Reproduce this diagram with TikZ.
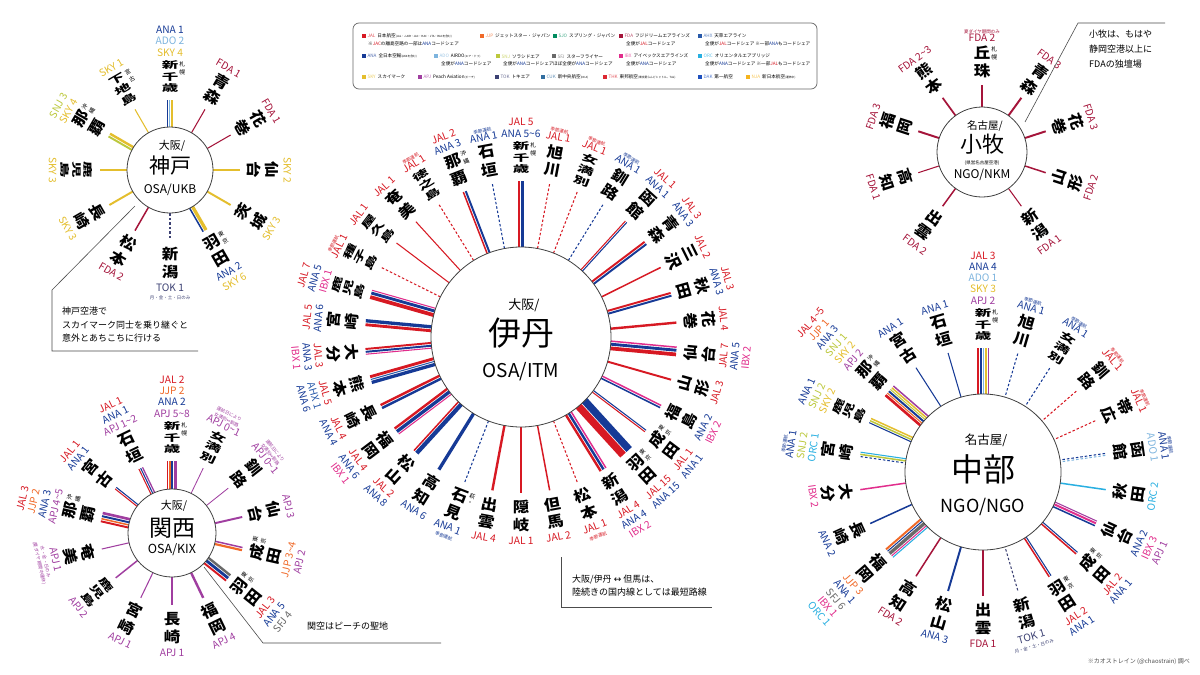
\documentclass[tikz,border=0pt]{standalone}
\usepackage{fontspec}
\setmainfont{Noto Sans CJK JP}
\newfontfamily\djv{DejaVu Sans}
\usepackage{graphicx}
\usetikzlibrary{calc}
\definecolor{jal}{RGB}{215,25,35}
\definecolor{ana}{RGB}{22,58,150}
\definecolor{ado}{RGB}{125,180,222}
\definecolor{sky}{RGB}{228,190,45}
\definecolor{snj}{RGB}{188,200,60}
\definecolor{fda}{RGB}{165,20,58}
\definecolor{jjp}{RGB}{240,105,40}
\definecolor{apj}{RGB}{160,62,160}
\definecolor{ibx}{RGB}{225,45,140}
\definecolor{orc}{RGB}{40,175,225}
\definecolor{tok}{RGB}{60,65,115}
\definecolor{sfj}{RGB}{105,105,105}
\definecolor{ahx}{RGB}{40,90,170}
\definecolor{sjo}{RGB}{0,140,95}
\definecolor{cuk}{RGB}{50,110,160}
\definecolor{thk}{RGB}{220,40,50}
\definecolor{dak}{RGB}{30,80,190}
\definecolor{nja}{RGB}{245,180,30}
\tikzset{
  hubc/.style={draw=black!75, line width=0.8pt, fill=white},
  sea/.style={dash pattern=on 2.5pt off 2pt},
  nmst/.style={inner sep=0pt, font=\bfseries},
  lbl/.style={inner xsep=0pt, inner ysep=4pt, align=center, font=\fontsize{10.2}{11.3}\selectfont},
  ann/.style={inner sep=0.8pt, font=\fontsize{5.8}{6.2}\selectfont},
  callt/.style={draw=black!70, line width=0.6pt},
  ctext/.style={align=left, anchor=north west, inner sep=0pt},
  leg/.style={anchor=west, inner sep=0pt, font=\fontsize{4.6}{5}\selectfont},
}
\newcommand\lbcol[2]{{\color{#1}#2}}
\newcommand\lbnote[2]{{\color{#1}\fontsize{4.5}{5}\selectfont #2}}
\newcommand\tld{\textasciitilde}
\def\lgap{0.9}
\def\hg{7}
\newcommand\sethub[6]{\coordinate (#1) at (#2,-#3);\def\hc{#1}\def\hr{#4}\def\hR{#5}\def\hstep{#6}}
\newcommand\rspoke[5]{%
  \pgfmathsetmacro\spTh{#1*\hstep}%
  \pgfmathsetmacro\spPh{90-\spTh}%
  \pgfmathtruncatemacro\spBot{(\spTh>90.01 && \spTh<270.01) ? 1 : 0}%
  \ifnum\spBot=1
    \def\spSg{-1}\pgfmathsetmacro\spRt{180-\spTh}\def\spAnc{north}\def\spFar{south}%
  \else
    \def\spSg{1}\pgfmathsetmacro\spRt{-\spTh}\def\spAnc{south}\def\spFar{north}%
  \fi
  \xdef\totw{0}%
  \foreach \LC/\LN/\LD in {#2}{\pgfmathparse{\totw+0.45*\LN+0.6+\lgap}\xdef\totw{\pgfmathresult}}%
  \pgfmathparse{-(\totw-\lgap)/2}\xdef\xcur{\pgfmathresult}%
  \begin{scope}[shift={(\hc)}, rotate=-\spTh]
    \foreach \LC/\LN/\LD in {#2}{%
      \pgfmathsetmacro\lw{0.45*\LN+0.6}%
      \pgfmathsetmacro\xm{\spSg*(\xcur+\lw/2)}%
      \draw[\LC, line width=\lw pt, \LD] (\xm,\hr*0.8) -- (\xm,\hR);
      \pgfmathparse{\xcur+\lw+\lgap}\xdef\xcur{\pgfmathresult}%
    }
  \end{scope}
  \node[nmst, rotate=\spRt, anchor=\spAnc] (nm) at ($(\hc)+(\spPh:{\hR+\hg})$) {\resizebox*{16.5pt}{32pt}{\shortstack{#3}}};
  \if\relax\detokenize{#4}\relax\else
    \node[ann, rotate=\spRt, anchor=north west] at (nm.north east) {\shortstack{#4}};
  \fi
  \node[lbl, rotate=\spRt, anchor=\spAnc] at (nm.\spFar) {#5};
}
\newcommand\legi[5]{\node[leg] at (#1,-#2) {\textcolor{#3}{\rule{4.2pt}{4.2pt}}\hspace{1.2pt}\textcolor{#3!75}{#4}\hspace{2pt}#5};}
\newcommand\legs[3]{\node[leg] at (#1,-#2) {#3};}
\newcommand\tn[1]{{\fontsize{2.8}{3}\selectfont #1}}
\begin{document}
\begin{tikzpicture}[x=1pt,y=1pt]
\useasboundingbox (0,0) rectangle (1200,-675);
\fill[white] (0,0) rectangle (1200,-675);

% ================= KOBE =================
\sethub{kobe}{170}{170}{43}{70}{30}
\rspoke{0}{ana/1/solid, ado/2/solid, sky/4/solid}{新\\千\\歳}{札\\幌}{\lbcol{ana}{ANA 1}\\\lbcol{ado}{ADO 2}\\\lbcol{sky}{SKY 4}}
\rspoke{1}{fda/1/solid}{青\\森}{}{\lbcol{fda}{FDA 1}}
\rspoke{2}{fda/1/solid}{花\\巻}{}{\lbcol{fda}{FDA 1}}
\rspoke{3}{sky/2/solid}{仙\\台}{}{\lbcol{sky}{SKY 2}}
\rspoke{4}{sky/3/solid}{茨\\城}{}{\lbcol{sky}{SKY 3}}
\rspoke{5}{ana/2/solid, sky/6/solid}{羽\\田}{東\\京}{\lbcol{ana}{ANA 2}\\\lbcol{sky}{SKY 6}}
\rspoke{6}{tok/1/sea}{新\\潟}{}{\lbcol{tok}{TOK 1}\\[-3pt]\lbnote{tok}{月・金・土・日のみ}}
\rspoke{7}{fda/2/solid}{松\\本}{}{\lbcol{fda}{FDA 2}}
\rspoke{8}{sky/3/solid}{長\\崎}{}{\lbcol{sky}{SKY 3}}
\rspoke{9}{sky/3/solid}{鹿\\児\\島}{}{\lbcol{sky}{SKY 3}}
\rspoke{10}{snj/3/solid, sky/4/solid}{那\\覇}{沖\\縄}{\lbcol{snj}{SNJ 3}\\\lbcol{sky}{SKY 4}}
\rspoke{11}{sky/1/solid}{下\\地\\島}{宮\\古}{\lbcol{sky}{SKY 1}}
\draw[hubc] (kobe) circle (43);
\node[font=\fontsize{11}{11}\selectfont] at ($(kobe)+(2,24)$) {大阪/};
\node[font=\fontsize{21}{21}\selectfont] at ($(kobe)+(0,4)$) {神戸};
\node[font=\fontsize{12}{12}\selectfont] at ($(kobe)+(0,-20)$) {OSA/UKB};
\coordinate (kb1) at (135,-206);
\coordinate (kb2) at (52,-290);
\coordinate (kb3) at (52,-351);
\coordinate (kb4) at (198,-351);
\draw[callt] (kb1) -- (kb2) -- (kb3) -- (kb4);
\node[ctext, font=\fontsize{9}{13.5}\selectfont] (kbt) at (62,-307) {神戸空港で\\スカイマーク同士を乗り継ぐと\\意外とあちこちに行ける};

% ================= KANSAI =================
\sethub{kix}{172}{533}{44}{72}{25.714286}
\rspoke{0}{jal/2/solid, jjp/2/solid, ana/2/solid, apj/6.5/solid}{新\\千\\歳}{札\\幌}{\lbcol{jal}{JAL 2}\\\lbcol{jjp}{JJP 2}\\\lbcol{ana}{ANA 2}\\\lbcol{apj}{APJ 5\tld 8}}
\rspoke{1}{apj/0.5/solid}{女\\満\\別}{}{\lbnote{apj}{運航日により}\\[-5pt]\lbnote{apj}{女満別{\djv ↔}釧路}\\[-3pt]\lbcol{apj}{APJ 0\tld 1}}
\rspoke{2}{apj/0.5/solid}{釧\\路}{}{\lbnote{apj}{運航日により}\\[-5pt]\lbnote{apj}{女満別{\djv ↔}釧路}\\[-3pt]\lbcol{apj}{APJ 0\tld 1}}
\rspoke{3}{apj/3/solid}{仙\\台}{}{\lbcol{apj}{APJ 3}}
\rspoke{4}{jjp/3.5/solid, apj/2/solid}{成\\田}{東\\京}{\lbcol{jjp}{JJP 3\tld 4}\\\lbcol{apj}{APJ 2}}
\rspoke{5}{jal/3/solid, ana/5/solid, sfj/4/solid}{羽\\田}{東\\京}{\lbcol{jal}{JAL 3}\\\lbcol{ana}{ANA 5}\\\lbcol{sfj}{SFJ 4}}
\rspoke{6}{apj/4/solid}{福\\岡}{}{\lbcol{apj}{APJ 4}}
\rspoke{7}{apj/1/solid}{長\\崎}{}{\lbcol{apj}{APJ 1}}
\rspoke{8}{apj/1/solid}{宮\\崎}{}{\lbcol{apj}{APJ 1}}
\rspoke{9}{apj/2/solid}{鹿\\児\\島}{}{\lbcol{apj}{APJ 2}}
\rspoke{10}{apj/1/solid}{奄\\美}{}{\lbcol{apj}{APJ 1}\\[-3pt]\lbnote{apj}{水・金・日のみ}\\[-5pt]\lbnote{apj}{(夏ダイヤ期間中運休)}}
\rspoke{11}{jal/3/solid, jjp/2/solid, ana/3/solid, apj/4.5/solid}{那\\覇}{沖\\縄}{\lbcol{jal}{JAL 3}\\\lbcol{jjp}{JJP 2}\\\lbcol{ana}{ANA 3}\\\lbcol{apj}{APJ 4\tld 5}}
\rspoke{12}{jal/1/solid, ana/1/solid}{宮\\古}{}{\lbcol{jal}{JAL 1}\\\lbcol{ana}{ANA 1}}
\rspoke{13}{jal/1/solid, ana/1/solid, apj/1.5/solid}{石\\垣}{}{\lbcol{jal}{JAL 1}\\\lbcol{ana}{ANA 1}\\\lbcol{apj}{APJ 1\tld 2}}
\draw[hubc] (kix) circle (44);
\node[font=\fontsize{11}{11}\selectfont] at ($(kix)+(2,27)$) {大阪/};
\node[font=\fontsize{23}{23}\selectfont] at ($(kix)+(0,5)$) {関西};
\node[font=\fontsize{12.5}{12.5}\selectfont] at ($(kix)+(0,-17)$) {OSA/KIX};
\coordinate (kx1) at (204,-567);
\coordinate (kx2) at (263,-643);
\coordinate (kx3) at (441,-643);
\draw[callt] (kx1) -- (kx2) -- (kx3);
\node[ctext, font=\fontsize{9}{13}\selectfont] (kxt) at (307,-622) {関空はピーチの聖地};

% ================= ITAMI =================
\sethub{itm}{521}{337}{90}{156}{10.588235}
\rspoke{0}{jal/5/solid, ana/5.5/solid}{新\\千\\歳}{札\\幌}{\lbcol{jal}{JAL 5}\\\lbcol{ana}{ANA 5\tld 6}}
\rspoke{1}{jal/1/sea}{旭\\川}{}{\lbnote{jal}{季節運航}\\[-3pt]\lbcol{jal}{JAL 1}}
\rspoke{2}{jal/1/sea}{女\\満\\別}{}{\lbnote{jal}{季節運航}\\[-3pt]\lbcol{jal}{JAL 1}}
\rspoke{3}{ana/1/sea}{釧\\路}{}{\lbnote{ana}{季節運航}\\[-3pt]\lbcol{ana}{ANA 1}}
\rspoke{4}{jal/1/solid, ana/1/solid}{函\\館}{}{\lbcol{jal}{JAL 1}\\\lbcol{ana}{ANA 1}}
\rspoke{5}{jal/3/solid, ana/3/solid}{青\\森}{}{\lbcol{jal}{JAL 3}\\\lbcol{ana}{ANA 3}}
\rspoke{6}{jal/2/solid}{三\\沢}{}{\lbcol{jal}{JAL 2}}
\rspoke{7}{jal/3/solid, ana/3/solid}{秋\\田}{}{\lbcol{jal}{JAL 3}\\\lbcol{ana}{ANA 3}}
\rspoke{8}{jal/4/solid}{花\\巻}{}{\lbcol{jal}{JAL 4}}
\rspoke{9}{jal/7/solid, ana/5/solid, ibx/2/solid}{仙\\台}{}{\lbcol{jal}{JAL 7}\\\lbcol{ana}{ANA 5}\\\lbcol{ibx}{IBX 2}}
\rspoke{10}{jal/3/solid}{山\\形}{}{\lbcol{jal}{JAL 3}}
\rspoke{11}{ana/2/solid, ibx/2/solid}{福\\島}{}{\lbcol{ana}{ANA 2}\\\lbcol{ibx}{IBX 2}}
\rspoke{12}{jal/1/solid, ana/1/solid}{成\\田}{東\\京}{\lbcol{jal}{JAL 1}\\\lbcol{ana}{ANA 1}}
\rspoke{13}{jal/15/solid, ana/15/solid}{羽\\田}{東\\京}{\lbcol{jal}{JAL 15}\\\lbcol{ana}{ANA 15}}
\rspoke{14}{jal/4/solid, ana/4/solid, ibx/2/solid}{新\\潟}{}{\lbcol{jal}{JAL 4}\\\lbcol{ana}{ANA 4}\\\lbcol{ibx}{IBX 2}}
\rspoke{15}{jal/1/sea}{松\\本}{}{\lbcol{jal}{JAL 1}\\[-3pt]\lbnote{jal}{季節運航}}
\rspoke{16}{jal/2/solid}{但\\馬}{}{\lbcol{jal}{JAL 2}}
\rspoke{17}{jal/1/solid}{隠\\岐}{}{\lbcol{jal}{JAL 1}}
\rspoke{18}{jal/4/solid}{出\\雲}{}{\lbcol{jal}{JAL 4}}
\rspoke{19}{ana/1/sea}{石\\見}{萩\\・}{\lbcol{ana}{ANA 1}\\[-3pt]\lbnote{ana}{季節運航}}
\rspoke{20}{ana/6/solid}{高\\知}{}{\lbcol{ana}{ANA 6}}
\rspoke{21}{jal/2/solid, ana/8/solid}{松\\山}{}{\lbcol{jal}{JAL 2}\\\lbcol{ana}{ANA 8}}
\rspoke{22}{jal/4/solid, ana/6/solid, ibx/1/solid}{福\\岡}{}{\lbcol{jal}{JAL 4}\\\lbcol{ana}{ANA 6}\\\lbcol{ibx}{IBX 1}}
\rspoke{23}{jal/4/solid, ana/4/solid}{長\\崎}{}{\lbcol{jal}{JAL 4}\\\lbcol{ana}{ANA 4}}
\rspoke{24}{jal/5/solid, ahx/1/solid, ana/6/solid}{熊\\本}{}{\lbcol{jal}{JAL 5}\\\lbcol{ahx}{AHX 1}\\\lbcol{ana}{ANA 6}}
\rspoke{25}{jal/3/solid, ana/3/solid, ibx/1/solid}{大\\分}{}{\lbcol{jal}{JAL 3}\\\lbcol{ana}{ANA 3}\\\lbcol{ibx}{IBX 1}}
\rspoke{26}{jal/5/solid, ana/6/solid}{宮\\崎}{}{\lbcol{jal}{JAL 5}\\\lbcol{ana}{ANA 6}}
\rspoke{27}{jal/7/solid, ana/5/solid, ibx/1/solid}{鹿\\児\\島}{}{\lbcol{jal}{JAL 7}\\\lbcol{ana}{ANA 5}\\\lbcol{ibx}{IBX 1}}
\rspoke{28}{jal/1/sea}{種\\子\\島}{}{\lbnote{jal}{季節運航}\\[-3pt]\lbcol{jal}{JAL 1}}
\rspoke{29}{jal/1/solid}{屋\\久\\島}{}{\lbcol{jal}{JAL 1}}
\rspoke{30}{jal/1/solid}{奄\\美}{}{\lbcol{jal}{JAL 1}}
\rspoke{31}{jal/1/sea}{徳\\之\\島}{}{\lbnote{jal}{季節運航}\\[-3pt]\lbcol{jal}{JAL 1}}
\rspoke{32}{jal/2/solid, ana/3/solid}{那\\覇}{沖\\縄}{\lbcol{jal}{JAL 2}\\\lbcol{ana}{ANA 3}}
\rspoke{33}{ana/1/sea}{石\\垣}{}{\lbnote{ana}{季節運航}\\[-3pt]\lbcol{ana}{ANA 1}}
\draw[hubc] (itm) circle (90);
\node[font=\fontsize{13}{13}\selectfont] at ($(itm)+(3,32)$) {大阪/};
\node[font=\fontsize{33}{33}\selectfont] at ($(itm)+(0,4)$) {伊丹};
\node[font=\fontsize{19}{19}\selectfont] at ($(itm)+(0,-35)$) {OSA/ITM};
\coordinate (it1) at (561,-557);
\coordinate (it2) at (561,-607);
\coordinate (it3) at (712,-607);
\draw[callt] (it1) -- (it2) -- (it3);
\node[ctext, font=\fontsize{9}{13}\selectfont] (itt) at (572,-575) {大阪/伊丹 {\djv ↔} 但馬は、\\陸続きの国内線としては最短路線};

% ================= KOMAKI =================
\sethub{nkm}{982}{152}{45}{67}{36}
\rspoke{0}{fda/2/solid}{丘\\珠}{札\\幌}{\lbnote{fda}{夏ダイヤ期間のみ}\\[-3pt]\lbcol{fda}{FDA 2}}
\rspoke{1}{fda/3/solid}{青\\森}{}{\lbcol{fda}{FDA 3}}
\rspoke{2}{fda/3/solid}{花\\巻}{}{\lbcol{fda}{FDA 3}}
\rspoke{3}{fda/2/solid}{山\\形}{}{\lbcol{fda}{FDA 2}}
\rspoke{4}{fda/1/solid}{新\\潟}{}{\lbcol{fda}{FDA 1}}
\rspoke{6}{fda/2/solid}{出\\雲}{}{\lbcol{fda}{FDA 2}}
\rspoke{7}{fda/1/solid}{高\\知}{}{\lbcol{fda}{FDA 1}}
\rspoke{8}{fda/3/solid}{福\\岡}{}{\lbcol{fda}{FDA 3}}
\rspoke{9}{fda/2.5/solid}{熊\\本}{}{\lbcol{fda}{FDA 2\tld 3}}
\draw[hubc] (nkm) circle (45);
\node[font=\fontsize{10.5}{10.5}\selectfont] at ($(nkm)+(3,26)$) {名古屋/};
\node[font=\fontsize{22}{22}\selectfont] at ($(nkm)+(0,8)$) {小牧};
\node[font=\fontsize{4.5}{4.5}\selectfont] at ($(nkm)+(0,-11)$) {(県営名古屋空港)};
\node[font=\fontsize{12}{12}\selectfont] at ($(nkm)+(0,-23)$) {NGO/NKM};
\coordinate (nk1) at (1025,-122);
\coordinate (nk2) at (1078,-23);
\coordinate (nk3) at (1165,-23);
\draw[callt] (nk1) -- (nk2) -- (nk3);
\node[ctext, font=\fontsize{9}{15}\selectfont] (nkt) at (1089,-30) {小牧は、もはや\\静岡空港以上に\\FDAの独壇場};

% ================= CHUBU =================
\sethub{ngo}{983}{472}{78}{124}{16.363636}
\rspoke{0}{jal/3/solid, ana/4/solid, ado/1/solid, sky/3/solid, apj/2/solid}{新\\千\\歳}{札\\幌}{\lbcol{jal}{JAL 3}\\\lbcol{ana}{ANA 4}\\\lbcol{ado}{ADO 1}\\\lbcol{sky}{SKY 3}\\\lbcol{apj}{APJ 2}}
\rspoke{1}{ana/1/sea}{旭\\川}{}{\lbnote{ana}{季節運航}\\[-3pt]\lbcol{ana}{ANA 1}}
\rspoke{2}{ana/1/sea}{女\\満\\別}{}{\lbnote{ana}{季節運航}\\[-3pt]\lbcol{ana}{ANA 1}}
\rspoke{3}{jal/1/sea}{釧\\路}{}{\lbnote{jal}{季節運航}\\[-3pt]\lbcol{jal}{JAL 1}}
\rspoke{4}{jal/1/sea}{帯\\広}{}{\lbnote{jal}{季節運航}\\[-3pt]\lbcol{jal}{JAL 1}}
\rspoke{5}{ana/1/sea, ado/1/sea}{函\\館}{}{\lbnote{ana}{季節運航}\\[-3pt]\lbcol{ana}{ANA 1}\\\lbcol{ado}{ADO 1}}
\rspoke{6}{orc/2/solid}{秋\\田}{}{\lbcol{orc}{ORC 2}}
\rspoke{7}{ana/2/solid, ibx/3/solid, apj/1/solid}{仙\\台}{}{\lbcol{ana}{ANA 2}\\\lbcol{ibx}{IBX 3}\\\lbcol{apj}{APJ 1}}
\rspoke{8}{jal/2/solid, ana/1/solid}{成\\田}{東\\京}{\lbcol{jal}{JAL 2}\\\lbcol{ana}{ANA 1}}
\rspoke{9}{jal/2/solid, ana/1/solid}{羽\\田}{東\\京}{\lbcol{jal}{JAL 2}\\\lbcol{ana}{ANA 1}}
\rspoke{10}{tok/1/sea}{新\\潟}{}{\lbcol{tok}{TOK 1}\\[-3pt]\lbnote{tok}{月・金・土・日のみ}}
\rspoke{11}{fda/1/solid}{出\\雲}{}{\lbcol{fda}{FDA 1}}
\rspoke{12}{ana/3/solid}{松\\山}{}{\lbcol{ana}{ANA 3}}
\rspoke{13}{fda/2/solid}{高\\知}{}{\lbcol{fda}{FDA 2}}
\rspoke{14}{jjp/3/solid, ana/1/solid, sfj/6/solid, ibx/1/solid, orc/1/solid}{福\\岡}{}{\lbcol{jjp}{JJP 3}\\\lbcol{ana}{ANA 1}\\\lbcol{sfj}{SFJ 6}\\\lbcol{ibx}{IBX 1}\\\lbcol{orc}{ORC 1}}
\rspoke{15}{ana/2/solid}{長\\崎}{}{\lbcol{ana}{ANA 2}}
\rspoke{16}{ibx/2/solid}{大\\分}{}{\lbcol{ibx}{IBX 2}}
\rspoke{17}{ana/1/sea, snj/2/solid, orc/1/solid}{宮\\崎}{}{\lbnote{ana}{季節運航}\\[-3pt]\lbcol{ana}{ANA 1}\\\lbcol{snj}{SNJ 2}\\\lbcol{orc}{ORC 1}}
\rspoke{18}{ana/1/solid, snj/2/solid, sky/2/solid}{鹿\\児\\島}{}{\lbcol{ana}{ANA 1}\\\lbcol{snj}{SNJ 2}\\\lbcol{sky}{SKY 2}}
\rspoke{19}{jal/4.5/solid, jjp/1/solid, ana/3/solid, snj/1/solid, sky/2/solid, apj/2/solid}{那\\覇}{沖\\縄}{\lbcol{jal}{JAL 4\tld 5}\\\lbcol{jjp}{JJP 1}\\\lbcol{ana}{ANA 3}\\\lbcol{snj}{SNJ 1}\\\lbcol{sky}{SKY 2}\\\lbcol{apj}{APJ 2}}
\rspoke{20}{ana/1/solid}{宮\\古}{}{\lbcol{ana}{ANA 1}}
\rspoke{21}{ana/1/solid}{石\\垣}{}{\lbcol{ana}{ANA 1}}
\draw[hubc] (ngo) circle (78);
\node[font=\fontsize{12.5}{12.5}\selectfont] at ($(ngo)+(3,32)$) {名古屋/};
\node[font=\fontsize{32}{32}\selectfont] at ($(ngo)+(0,3)$) {中部};
\node[font=\fontsize{18}{18}\selectfont] at ($(ngo)+(0,-35)$) {NGO/NGO};

% ================= LEGEND =================
\draw[rounded corners=6pt, draw=black!60, line width=0.7pt] (353,-23) rectangle (817,-89);
\legi{362}{36}{jal}{JAL}{日本航空\tn{(JAL・J-AIR・JAC・HAC・JTA・RACを含む)}}
\legs{368}{44}{※\textcolor{jal}{JAC}の離島空路の一部は\textcolor{ana}{ANA}コードシェア}
\legi{480}{36}{jjp}{JJP}{ジェットスター・ジャパン}
\legi{553}{36}{sjo}{SJO}{スプリング・ジャパン}
\legi{619}{36}{fda}{FDA}{フジドリームエアラインズ}
\legs{626}{44}{全便が\textcolor{jal}{JAL}コードシェア}
\legi{698}{36}{ahx}{AHX}{天草エアライン}
\legs{705}{44}{全便が\textcolor{jal}{JAL}コードシェア ※一部\textcolor{ana}{ANA}もコードシェア}
\legi{362}{56}{ana}{ANA}{全日本空輸\tn{(AKXを含む)}}
\legi{434}{56}{ado}{ADO}{AIRDO\tn{(エア・ドゥ)}}
\legs{441}{64}{全便が\textcolor{ana}{ANA}コードシェア}
\legi{496}{56}{snj}{SNJ}{ソラシドエア}
\legs{503}{64}{全便が\textcolor{ana}{ANA}コードシェア}
\legi{552}{56}{sfj}{SFJ}{スターフライヤー}
\legs{553}{64}{ほぼ全便が\textcolor{ana}{ANA}コードシェア}
\legi{619}{56}{ibx}{IBX}{アイベックスエアラインズ}
\legs{626}{64}{全便が\textcolor{ana}{ANA}コードシェア}
\legi{698}{56}{orc}{ORC}{オリエンタルエアブリッジ}
\legs{705}{64}{全便が\textcolor{ana}{ANA}コードシェア ※一部\textcolor{jal}{JAL}もコードシェア}
\legi{362}{77}{sky}{SKY}{スカイマーク}
\legi{418}{77}{apj}{APJ}{Peach Aviation\tn{(ピーチ)}}
\legi{495}{77}{tok}{TOK}{トキエア}
\legi{541}{77}{cuk}{CUK}{新中央航空\tn{(NCA)}}
\legi{603}{77}{thk}{THK}{東邦航空\tn{(東京愛らんどシャトル、TAL)}}
\legi{698}{77}{dak}{DAK}{第一航空}
\legi{746}{77}{nja}{NJA}{新日本航空\tn{(運休中)}}

\node[anchor=east, inner sep=0pt, font=\fontsize{6}{6}\selectfont, text=black!70] (credit) at (1190,-662) {※カオストレイン (@chaostrain) 調べ};
\end{tikzpicture}
\end{document}
